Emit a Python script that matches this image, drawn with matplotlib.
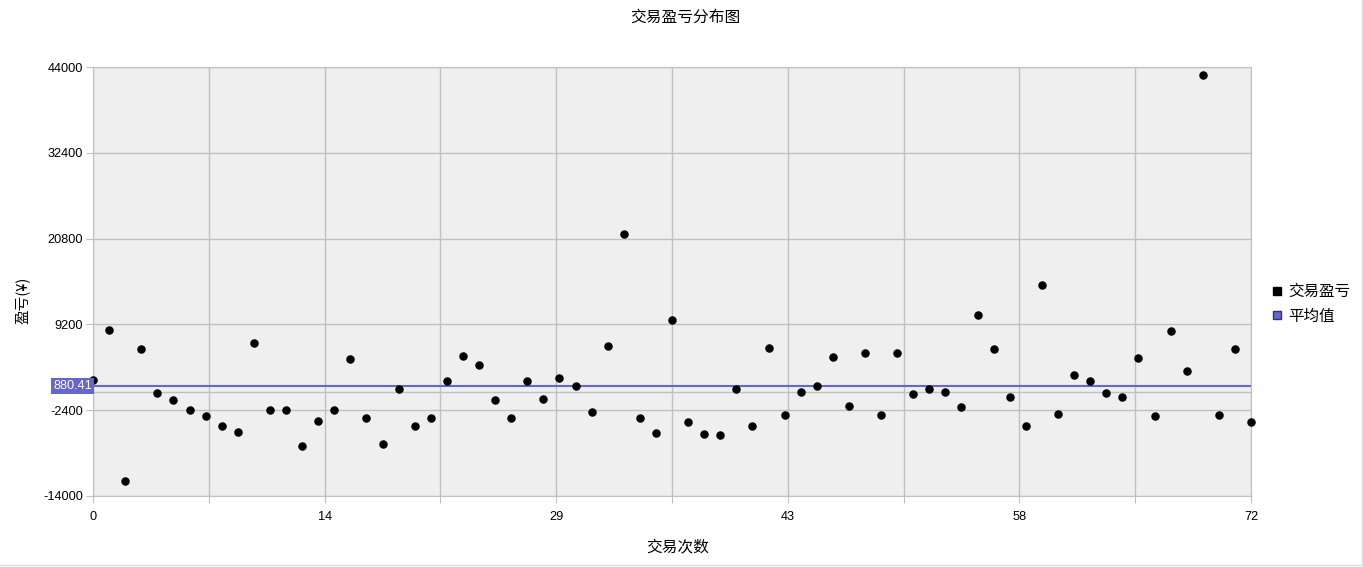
import matplotlib
matplotlib.use("Agg")
import numpy as np
import matplotlib.pyplot as plt
from matplotlib.lines import Line2D
import matplotlib.transforms as mtransforms

plt.rcParams['font.family'] = ['Liberation Sans', 'Noto Sans CJK SC', 'DejaVu Sans']

# data
trade_no = list(range(73))
pnl = [
    1640, 8400, -11970, 5830, -120, -1060, -2420, -3140, -4590, -5300,
    6720, -2420, -2420, -7290, -3910, -2420, 4470, -3500, -7020, 410,
    -4590, -3500, 1590, 4870, 3750, -980, -3410, 1590, -840, 1990,
    910, -2600, 6320, 21440, -3410, -5440, 9830, -3950, -5570, -5710,
    510, -4490, 6050, -3000, 100, 910, 4830, -1790, 5370, -3000,
    5370, -170, 510, 100, -1920, 10500, 5910, -570, -4490, 14560,
    -2870, 2400, 1590, -30, -570, 4700, -3140, 8340, 2940, 42920,
    -3000, 5910, -3950,
]
mean_pnl = 880.41
y_ticks = [-14000, -2400, 9200, 20800, 32400, 44000]
x_grid = np.linspace(0, 72, 11)

grid_c = '#c0c0c0'
mean_c = '#6666cc'
cjk = ['Noto Sans CJK SC', 'DejaVu Sans']

fig = plt.figure(figsize=(13.63, 5.67), dpi=100)
ax = fig.add_axes([93 / 1363, 1 - 496 / 567, (1251 - 93) / 1363, (496 - 67) / 567])
ax.set_facecolor('#efefef')

ax.scatter(trade_no, pnl, s=26, color='black', zorder=3, clip_on=False)
ax.axhline(mean_pnl, color=mean_c, lw=1.5, zorder=2)
ax.axhline(0, color=grid_c, lw=1, zorder=1)

ax.set_xlim(0, 72)
ax.set_ylim(-14000, 44000)
ax.set_xticks(x_grid)
ax.set_xticklabels([f"{v:.0f}" if i % 2 == 0 else "" for i, v in enumerate(x_grid)])
ax.set_yticks(y_ticks)
ax.set_yticklabels([str(v) for v in y_ticks])
ax.grid(True, color=grid_c, lw=1)
ax.set_axisbelow(True)
for s in ax.spines.values():
    s.set_color(grid_c)
ax.tick_params(axis='both', length=5, color=grid_c, labelcolor='black', labelsize=9.2)
ax.tick_params(axis='x', pad=6)
ax.tick_params(axis='y', pad=2)

# mean value tag on the y axis
trans = mtransforms.blended_transform_factory(ax.transAxes, ax.transData)
ax.text(-0.001, mean_pnl, "880.41", transform=trans, ha='right', va='center',
        color='white', fontsize=9.2,
        bbox=dict(facecolor=mean_c, edgecolor='none', pad=1.5), zorder=5)

fig.text(685 / 1363, 1 - 17 / 567, "交易盈亏分布图", ha='center', va='center',
         fontsize=11.3, family=cjk)
fig.text(678 / 1363, 1 - 547 / 567, "交易次数", ha='center', va='center',
         fontsize=11.3, family=cjk)
fig.text(22 / 1363, 1 - 300 / 567, "盈亏(¥)", ha='center', va='center',
         rotation=90, fontsize=10.5, family=cjk)

handles = [
    Line2D([], [], marker='s', ls='none', color='black', markersize=6),
    Line2D([], [], marker='s', ls='none', markerfacecolor=mean_c,
           markeredgecolor='#333366', markersize=6),
]
fig.legend(handles, ["交易盈亏", "平均值"], loc='center left',
           bbox_to_anchor=(1263 / 1363, 1 - 304 / 567), frameon=False,
           prop={'family': cjk, 'size': 11.2}, handlelength=0.8,
           handletextpad=0.35, labelspacing=0.5, borderpad=0)

# light frame on the right and bottom edge of the image
fig.add_artist(Line2D([1361.5 / 1363] * 2, [1 - 564.5 / 567, 1], color='#dddddd',
                      lw=1, transform=fig.transFigure))
fig.add_artist(Line2D([0, 1361.5 / 1363], [1 - 564.5 / 567] * 2, color='#dddddd',
                      lw=1, transform=fig.transFigure))

fig.savefig("out.png", dpi=100)
